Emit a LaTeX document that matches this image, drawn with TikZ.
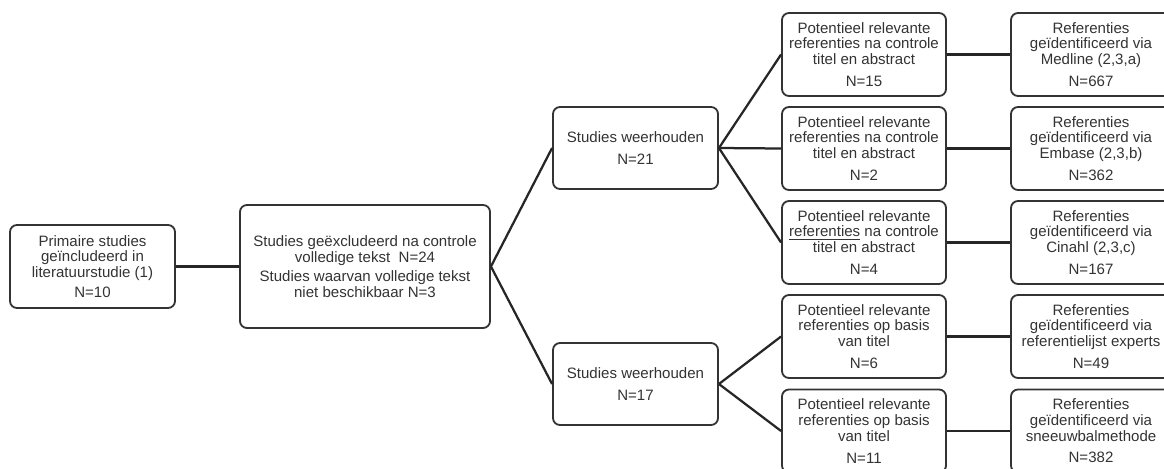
\documentclass[tikz,border=0pt]{standalone}
\usepackage{fontspec}
\setmainfont{Liberation Sans}
\usepackage{xcolor}
\usetikzlibrary{positioning}

\begin{document}
\begin{tikzpicture}[
    x=0.025cm, y=-0.025cm,
    box/.style={rectangle, draw=black!80, line width=1.3pt, rounded corners=5pt, align=center, inner sep=0pt, text=black!80, font=\fontsize{10.7pt}{11.1pt}\selectfont},
    small/.style={box, minimum width=4.125cm, minimum height=2.075cm},
    wide/.style={box, minimum width=6.25cm, minimum height=3.075cm},
    kept/.style={box, minimum width=4.125cm, minimum height=2.05cm},
    potential/.style={box, minimum width=4.1cm, minimum height=2.075cm},
    source/.style={box, minimum width=4.0cm, minimum height=2.075cm},
    line/.style={draw=black!85, line width=1.6pt}
]
\useasboundingbox (0,0) rectangle (1164,468);
\clip (0,0) rectangle (1164,468);

\node[small] (primary) at (92.5,266.5) {Primaire studies\\ge\"includeerd in\\literatuurstudie (1)\\[3pt]N=10};
\node[wide] (excluded) at (365,266.5) {Studies ge\"excludeerd na controle\\volledige tekst\ \ N=24\\[2.5pt]Studies waarvan volledige tekst\\niet beschikbaar N=3};

\node[kept] (keptA) at (635.5,148) {Studies weerhouden\\[4pt]N=21};
\node[kept] (keptB) at (635.5,384) {Studies weerhouden\\[4pt]N=17};

\node[potential] (medlineP) at (864,54.5) {Potentieel relevante\\referenties na controle\\titel en abstract\\[4.5pt]N=15};
\node[potential] (embaseP) at (864,148.5) {Potentieel relevante\\referenties na controle\\titel en abstract\\[4.5pt]N=2};
\node[potential] (cinahlP) at (864,242.5) {Potentieel relevante\\\underline{referenties} na controle\\titel en abstract\\[4.5pt]N=4};
\node[potential] (expertP) at (864,336.5) {Potentieel relevante\\referenties op basis\\van titel\\[4.5pt]N=6};
\node[potential] (snowP) at (864,431) {Potentieel relevante\\referenties op basis\\van titel\\[4.5pt]N=11};

\node[source] (medline) at (1091,54.5) {Referenties\\ge\"identificeerd via\\Medline (2,3,a)\\[4.5pt]N=667};
\node[source] (embase) at (1091,148.5) {Referenties\\ge\"identificeerd via\\Embase (2,3,b)\\[4.5pt]N=362};
\node[source] (cinahl) at (1091,242.5) {Referenties\\ge\"identificeerd via\\Cinahl (2,3,c)\\[4.5pt]N=167};
\node[source] (expert) at (1091,336.5) {Referenties\\ge\"identificeerd via\\referentielijst experts\\[4.5pt]N=49};
\node[source] (snow) at (1091,431) {Referenties\\ge\"identificeerd via\\sneeuwbalmethode\\[4.5pt]N=382};

\draw[line] (primary) -- (excluded);
\draw[line] (excluded.east) -- (keptA.west);
\draw[line] (excluded.east) -- (keptB.west);

\draw[line] (keptA.east) -- (medlineP.west);
\draw[line] (keptA.east) -- (embaseP.west);
\draw[line] (keptA.east) -- (cinahlP.west);
\draw[line] (keptB.east) -- (expertP.west);
\draw[line] (keptB.east) -- (snowP.west);

\draw[line] (medline) -- (medlineP);
\draw[line] (embase) -- (embaseP);
\draw[line] (cinahl) -- (cinahlP);
\draw[line] (expert) -- (expertP);
\draw[line] (snow) -- (snowP);
\end{tikzpicture}
\end{document}
